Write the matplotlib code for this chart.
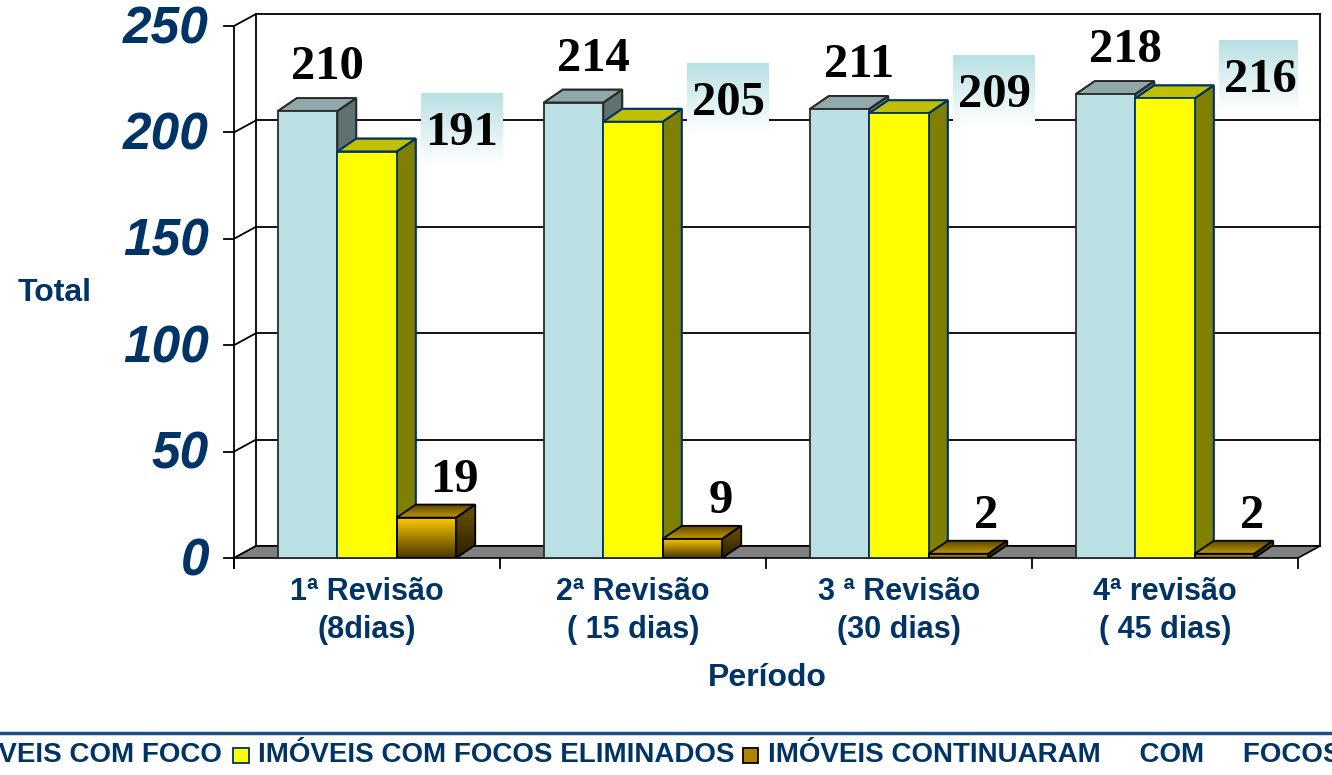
import numpy as np
import matplotlib.pyplot as plt
from matplotlib.patches import Polygon, Rectangle
from matplotlib.lines import Line2D
from matplotlib.colors import to_rgb

periods = ['1ª Revisão', '2ª Revisão', '3 ª Revisão', '4ª revisão']
durations = ['(8dias)', '( 15 dias)', '(30 dias)', '( 45 dias)']
com_foco = [210, 214, 211, 218]
focos_eliminados = [191, 205, 209, 216]
continuaram = [19, 9, 2, 2]
y_ticks = [0, 50, 100, 150, 200, 250]
legend_labels = ['IMÓVEIS COM FOCO', 'IMÓVEIS COM FOCOS ELIMINADOS',
                 'IMÓVEIS CONTINUARAM     COM     FOCOS']

NAVY = '#003366'
SANS = 'Liberation Sans'
SERIF = 'Liberation Serif'

W, H = 1332, 775
fig = plt.figure(figsize=(W / 100, H / 100), dpi=100)
ax = fig.add_axes([234 / W, 1 - 558 / H, 1064 / W, 532 / H])
ax.axis('off')

px = 4 / 1064    # one pixel in category units
py = 250 / 532   # one pixel in value units
wdx, wdy = 22 * px, 12 * py   # wall depth
bdx, bdy = 19 * px, 13 * py   # bar depth


def gradient(verts, c0, c1, z, clip=None):
    verts = np.asarray(verts)
    xmin, ymin = verts.min(0)
    xmax, ymax = verts.max(0)
    t = np.linspace(0, 1, 64)[:, None]
    img = ((1 - t) * np.array(to_rgb(c0)) + t * np.array(to_rgb(c1)))[:, None, :]
    im = ax.imshow(img, extent=(xmin, xmax, ymin, ymax), aspect='auto',
                   zorder=z, interpolation='bilinear')
    if clip is None:
        clip = Polygon(verts, closed=True, facecolor='none', edgecolor='none')
        ax.add_patch(clip)
    im.set_clip_path(clip)
    return im


# back wall, left wall and floor
for v in y_ticks:
    ax.plot([wdx, 4 + wdx], [v + wdy, v + wdy], color='black', lw=1.3, zorder=1, clip_on=False)
    ax.plot([0, wdx], [v, v + wdy], color='black', lw=1.3, zorder=1, clip_on=False)
    ax.plot([-10 * px, 0], [v, v], color='black', lw=1.3, zorder=1, clip_on=False)
    ax.text(-25 * px, v - 17 * py, str(v), ha='right', va='baseline', fontsize=37, color=NAVY,
            family=SANS, weight='bold', style='italic')
for xv in [wdx, 4 + wdx]:
    ax.plot([xv, xv], [wdy, 250 + wdy], color='black', lw=1.3, zorder=1, clip_on=False)
ax.plot([0, 0], [-10 * py, 250], color='black', lw=1.3, zorder=1, clip_on=False)
ax.add_patch(Polygon([(0, 0), (4, 0), (4 + wdx, wdy), (wdx, wdy)], closed=True,
                     facecolor='#808080', edgecolor='black', lw=1.2, zorder=2, clip_on=False))
for c in range(5):
    ax.plot([c, c], [0, -10 * py], color='black', lw=1.3, zorder=2, clip_on=False)

# 3D bars
centers = np.arange(4) + 0.5
w = 59.5 * px
styles = [
    dict(face='#BAE0E3', top='#8FA9AA', side='#5E7272', edge='#2b2b2b'),
    dict(face='#FFFF00', top='#C0C000', side='#808000', edge=NAVY),
    dict(face='#FFC800', top='#8C6C00', side='#5A4500', edge='black'),
]
for k, vals in enumerate([com_foco, focos_eliminados, continuaram]):
    st = styles[k]
    xs = centers + (k - 1) * w
    bars = ax.bar(xs, vals, width=w, color=st['face'], edgecolor=st['edge'], lw=1.3)
    for i, (bar, v) in enumerate(zip(bars, vals)):
        z = 3 + i + k * 0.1
        x0 = bar.get_x()
        x1 = x0 + w
        top = [(x0, v), (x1, v), (x1 + bdx, v + bdy), (x0 + bdx, v + bdy)]
        side = [(x1, 0), (x1 + bdx, bdy), (x1 + bdx, v + bdy), (x1, v)]
        bar.set_zorder(z + 0.03)
        if k == 2:
            gradient(side, '#6E5400', '#2A1F00', z + 0.01)
            gradient(top, '#5E4700', '#C49A00', z + 0.02)
            gradient([(x0, 0), (x1, v)], '#FFCC00', '#4A3600', z + 0.035, clip=bar)
            bar.set_facecolor('none')
            bar.set_zorder(z + 0.04)
        else:
            ax.add_patch(Polygon(side, closed=True, facecolor=st['side'], edgecolor=st['edge'],
                                 lw=1.3, zorder=z + 0.01))
            ax.add_patch(Polygon(top, closed=True, facecolor=st['top'], edgecolor=st['edge'],
                                 lw=1.3, zorder=z + 0.02))
        for poly in (side, top):
            ax.add_patch(Polygon(poly, closed=True, facecolor='none', edgecolor=st['edge'],
                                 lw=1.3, zorder=z + 0.025))

# value labels
lab = dict(fontsize=35, family=SERIF, weight='bold', color='black', zorder=30,
           ha='center', va='center_baseline')
for i in range(4):
    ax.text(centers[i] - w + 20 * px, com_foco[i] + 23, str(com_foco[i]), **lab)
    cx, cy = centers[i] + 95 * px, focos_eliminados[i] + 11
    gradient([(cx - 41 * px, cy - 37 * py), (cx + 41 * px, cy - 37 * py),
              (cx + 41 * px, cy + 35 * py), (cx - 41 * px, cy + 35 * py)],
             '#B9E0E3', '#FFFFFF', 25)
    ax.text(cx, cy, str(focos_eliminados[i]), **lab)
    ax.text(centers[i] + w + 28 * px, continuaram[i] + 20, str(continuaram[i]), **lab)

ax.set_xlim(0, 4)
ax.set_ylim(0, 250)

# axis titles and category labels
txt = dict(color=NAVY, family=SANS, weight='bold', ha='center', va='center')
fig.text(55 / W, 1 - 293 / H, 'Total', fontsize=23, **txt)
fig.text(767 / W, 1 - 678 / H, 'Período', fontsize=23, **txt)
for i in range(4):
    xf = (234 + 266 * (i + 0.5)) / W
    fig.text(xf, 1 - 592 / H, periods[i], fontsize=22, **txt)
    fig.text(xf, 1 - 630 / H, durations[i], fontsize=22, **txt)

# legend strip
fig.add_artist(Line2D([0, 1], [1 - 733 / H] * 2, color='#1F4E79', lw=2.5))
ly = 1 - 755 / H
lt = dict(color=NAVY, family=SANS, weight='bold', fontsize=20, va='center')
fig.text(222 / W, ly, legend_labels[0], ha='right', **lt)
fig.add_artist(Rectangle((233 / W, 1 - 763 / H), 16 / W, 15 / H, facecolor='#FFFF00',
                         edgecolor=NAVY, lw=1.3, transform=fig.transFigure))
fig.text(258 / W, ly, legend_labels[1], ha='left', **lt)
fig.add_artist(Rectangle((743 / W, 1 - 763 / H), 15 / W, 15 / H, facecolor='#B08400',
                         edgecolor='black', lw=1.3, transform=fig.transFigure))
fig.text(768 / W, ly, legend_labels[2], ha='left', **lt)

fig.savefig('out.png', dpi=100)
